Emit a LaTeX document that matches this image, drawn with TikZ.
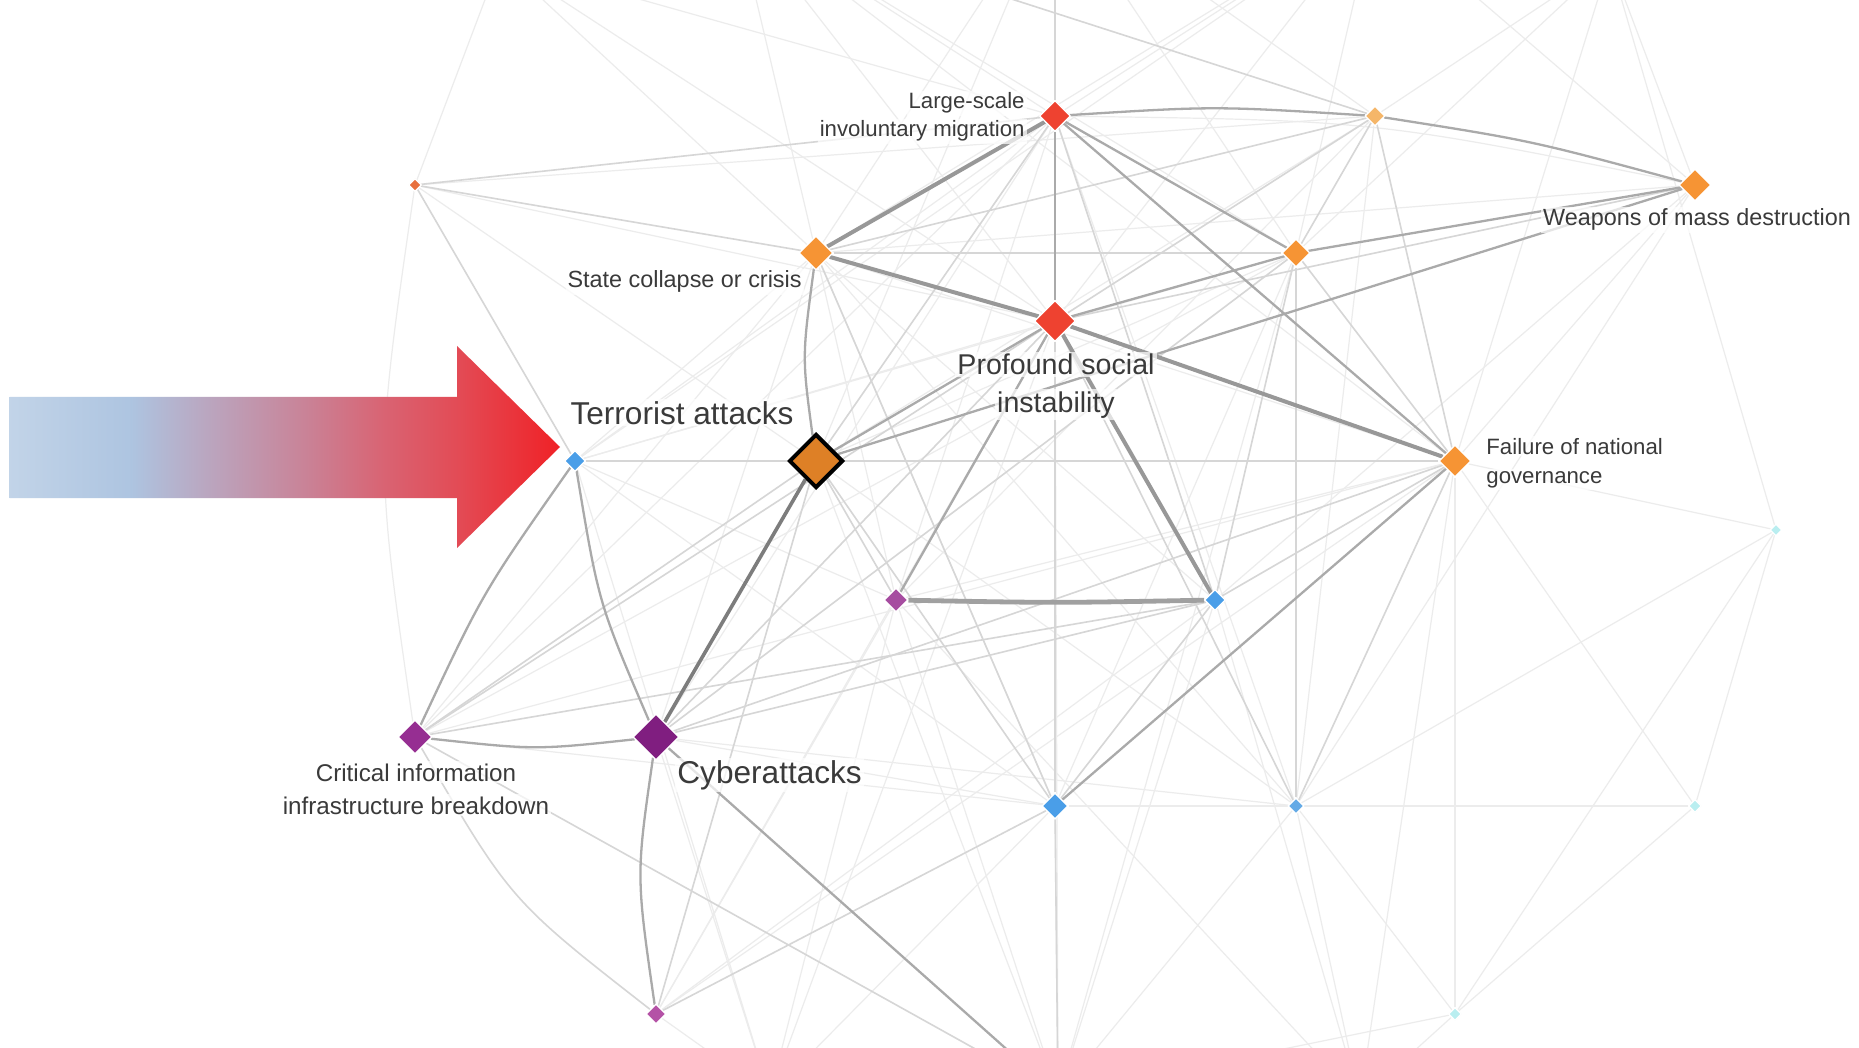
\documentclass[tikz,border=0pt]{standalone}
\usepackage{fontspec}
\setmainfont{Liberation Sans}
\usetikzlibrary{shapes.geometric,calc,backgrounds}
\definecolor{txt}{RGB}{58,58,58}
\definecolor{redn}{RGB}{238,66,48}
\definecolor{orn}{RGB}{246,148,52}
\definecolor{hlor}{RGB}{222,128,38}
\definecolor{orlt}{RGB}{245,182,105}
\definecolor{orrd}{RGB}{232,112,62}
\definecolor{blu}{RGB}{74,158,232}
\definecolor{blult}{RGB}{100,170,230}
\definecolor{pur1}{RGB}{128,30,128}
\definecolor{pur2}{RGB}{150,46,146}
\definecolor{pur3}{RGB}{166,76,160}
\definecolor{pur4}{RGB}{180,82,166}
\definecolor{cya}{RGB}{185,238,240}
\definecolor{ghv}{RGB}{152,152,152}
\definecolor{gdk}{RGB}{125,125,125}
\definecolor{gmd}{RGB}{170,170,170}
\definecolor{glt}{RGB}{214,214,214}
\definecolor{gvf}{RGB}{236,236,236}
\pgfdeclarehorizontalshading{arrowgrad}{100bp}{rgb(0bp)=(0.76,0.83,0.91); rgb(25bp)=(0.76,0.83,0.91); rgb(36bp)=(0.68,0.77,0.88); rgb(43bp)=(0.73,0.65,0.75); rgb(52bp)=(0.79,0.51,0.59); rgb(59bp)=(0.85,0.39,0.45); rgb(66bp)=(0.89,0.29,0.33); rgb(75bp)=(0.94,0.13,0.15); rgb(100bp)=(0.94,0.13,0.15)}
\begin{document}
\begin{tikzpicture}[x=0.5pt,y=-0.5pt,
  dia/.style={diamond, inner sep=0pt, minimum width=#1, minimum height=#1, draw=white, line width=0.6pt},
  hv/.style={draw=ghv, line width=2pt},
  hvd/.style={draw=gdk, line width=1.8pt},
  md/.style={draw=gmd, line width=1.15pt},
  lt/.style={draw=glt, line width=0.8pt},
  vf/.style={draw=gvf, line width=0.6pt},
  lbl/.style={text=txt, inner sep=1pt, fill=white, fill opacity=0.7, text opacity=1},
  f111/.style={font=\fontsize{11.1pt}{13pt}\selectfont},
  f117/.style={font=\fontsize{11.7pt}{14pt}\selectfont},
  f121/.style={font=\fontsize{12.1pt}{14pt}\selectfont},
  f143/.style={font=\fontsize{14.3pt}{17pt}\selectfont},
  f158/.style={font=\fontsize{15.8pt}{18pt}\selectfont}
]
\useasboundingbox (0,0) rectangle (1859,1048);

% ---------- nodes ----------
\node[dia=15.5pt, fill=redn] (lsm) at (1055,116) {};
\node[dia=10pt, fill=orlt] (o2) at (1375,116) {};
\node[dia=16pt, fill=orn] (wmd) at (1695,185) {};
\node[dia=6.5pt, fill=orrd] (o4) at (415,185) {};
\node[dia=17pt, fill=orn] (scc) at (816,253) {};
\node[dia=14pt, fill=orn] (o6) at (1296,253) {};
\node[dia=20.5pt, fill=redn] (psi) at (1055,321) {};
\node[dia=10.5pt, fill=blu] (ta) at (575,461) {};
\node[diamond, inner sep=0pt, minimum width=27pt, minimum height=27pt, fill=hlor, draw=black, line width=2pt] (hl) at (816,461) {};
\node[dia=16pt, fill=orn] (fng) at (1455,461) {};
\node[dia=12pt, fill=pur3] (p11) at (896,600) {};
\node[dia=10.5pt, fill=blu] (b12) at (1215,600) {};
\node[dia=17pt, fill=pur2] (ciib) at (415,737) {};
\node[dia=23pt, fill=pur1] (cyb) at (656,737) {};
\node[dia=13pt, fill=blu] (b15) at (1055,806) {};
\node[dia=8pt, fill=blult] (b16) at (1296,806) {};
\node[dia=6.5pt, fill=cya] (c17) at (1695,806) {};
\node[dia=6pt, fill=cya] (c18) at (1776,530) {};
\node[dia=10pt, fill=pur4] (p19) at (656,1014) {};
\node[dia=6.5pt, fill=cya] (c20) at (1455,1014) {};

\coordinate (tA) at (1055,-110);
\coordinate (tB) at (735,-90);
\coordinate (tC) at (1375,-90);
\coordinate (tD) at (500,-40);
\coordinate (tE) at (1610,-40);
\coordinate (bA) at (1058,1095);
\coordinate (bB) at (770,1095);
\coordinate (bC) at (1360,1100);

% ---------- edges ----------
\begin{scope}[on background layer]
\fill[white] (0,0) rectangle (1859,1048);
\foreach \a/\b in {tA/scc,tA/o2,tA/o6,tB/lsm,tB/scc,tB/psi,tB/fng,tC/lsm,tC/scc,tC/o6,tC/psi,tC/wmd,
  tD/o4,tD/scc,tD/lsm,tD/psi,tE/o2,tE/wmd,tE/o6,tE/fng,tE/c18,tC/ta,tB/o6,tA/hl,
  bA/b16,bA/b15,bA/p11,bA/hl,bA/c20,bA/b12,bA/psi,bA/o6,bB/p19,bB/cyb,bB/p11,bB/b15,bB/ta,bB/psi,
  bC/b16,bC/c20,bC/fng,bC/b12,bC/p11,
  c18/c20,c18/b16,c18/fng,c18/c17,c17/c20,c17/fng,c17/b15,c20/b16,c20/fng,
  o4/psi,o4/o2,o4/hl,ta/scc,ta/psi,ta/p11,ta/b15,ta/lsm,ciib/b15,ciib/o6,ciib/fng,ciib/scc,cyb/b15,cyb/b16,cyb/lsm,cyb/scc,
  p19/b12,p19/fng,p19/psi,p19/p11,hl/b16,p11/fng,p11/scc,p11/lsm,b15/o6,b15/scc,b16/lsm,b12/scc,b16/o2,
  wmd/fng,wmd/b12,wmd/scc,wmd/b16,o2/hl,o2/p11,scc/fng,scc/b16,o6/hl,o6/ta,lsm/ciib,fng/ta}
  \draw[vf] (\a) -- (\b);
\draw[vf] (lsm) .. controls ($(lsm)!0.5!(wmd)+(0,-30)$) .. (wmd);
\draw[vf] (o4) .. controls ($(o4)!0.5!(ciib)+(-40,0)$) .. (ciib);
\foreach \a/\b in {scc/o4,lsm/hl,lsm/b12,hl/fng,cyb/fng,ciib/hl,ciib/psi,cyb/psi,cyb/o6,b12/fng,
  o2/o6,o2/fng,o2/psi,o2/scc,scc/o6,o6/fng,o6/b12,o6/b16,fng/b16,ta/hl,ciib/b12,cyb/b12,hl/p11,
  p19/hl,p19/b15,b15/hl,psi/b16,ciib/bA,lsm/o4,psi/wmd,o4/ta,tB/o2,b15/b12,b15/psi,scc/b15,tA/lsm,b15/bA}
  \draw[lt] (\a) -- (\b);
\draw[lt] (ciib) .. controls ($(ciib)!0.5!(p19)+(-25,25)$) .. (p19);
\draw[md] (scc) .. controls ($(scc)!0.5!(hl)+(-14,0)$) .. (hl);
\foreach \a/\b in {lsm/psi,lsm/fng,lsm/o6,psi/o6,psi/hl,psi/p11,hl/wmd,o6/wmd,fng/b15}
  \draw[md] (\a) -- (\b);
\draw[md] (lsm) .. controls ($(lsm)!0.5!(o2)+(0,-10)$) .. (o2);
\draw[md] (o2) .. controls ($(o2)!0.5!(wmd)+(-4,-10)$) .. (wmd);
\draw[md] (ta) .. controls ($(ta)!0.5!(ciib)+(-12,-7)$) .. (ciib);
\draw[md] (ta) .. controls ($(ta)!0.5!(cyb)+(-17,4)$) .. (cyb);
\draw[md] (ciib) .. controls ($(ciib)!0.5!(cyb)+(0,13)$) .. (cyb);
\draw[md] (cyb) .. controls ($(cyb)!0.5!(p19)+(-20,0)$) .. (p19);
\draw[md] (cyb) -- (bA);
\foreach \a/\b in {lsm/scc,scc/psi,psi/fng,psi/b12}
  \draw[hv] (\a) -- (\b);
\draw[hv, line width=2.4pt, draw={rgb,255:red,160;green,160;blue,160}] (p11) .. controls ($(p11)!0.5!(b12)+(0,3)$) .. (b12);
\draw[hvd] (hl) -- (cyb);
\end{scope}

% ---------- labels ----------
\node[lbl,f111,anchor=base east] (l1a) at (1027,109) {Large-scale};
\node[lbl,f111,anchor=base east] (l1b) at (1027,137) {involuntary migration};
\node[lbl,f117,anchor=base east] (l2) at (804,288) {State collapse or crisis};
\node[lbl,f117,anchor=base] (l3) at (1697,226) {Weapons of mass destruction};
\node[lbl,f111,anchor=base west] (l4a) at (1484,454) {Failure of national};
\node[lbl,f111,anchor=base west] (l4b) at (1484,483) {governance};
\node[lbl,f143,anchor=base] (l5a) at (1056,375) {Profound social};
\node[lbl,f143,anchor=base] (l5b) at (1056,412) {instability};
\node[lbl,f158,anchor=base] (l6) at (682,424) {Terrorist attacks};
\node[lbl,f158,anchor=base west] (l7) at (675,783) {Cyberattacks};
\node[lbl,f121,anchor=base] (l8a) at (416,781) {Critical information};
\node[lbl,f121,anchor=base] (l8b) at (416,814) {infrastructure breakdown};

% ---------- big arrow ----------
\shade[shading=arrowgrad] (9.6,397) -- (457,397) -- (457,346) -- (560,447) -- (457,548) -- (457,498) -- (9.6,498) -- cycle;
\end{tikzpicture}
\end{document}
